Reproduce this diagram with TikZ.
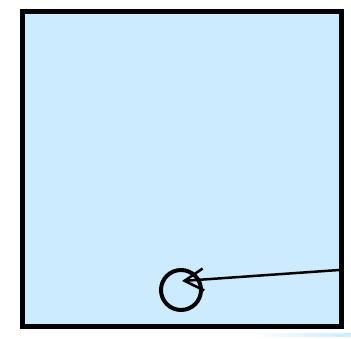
\documentclass[tikz,border=0pt]{standalone}
\usepackage{tikz}
\usetikzlibrary{arrows.meta,positioning}
\definecolor{panelbg}{HTML}{CCEBFF}
\definecolor{ink}{HTML}{000000}

\begin{document}
\begin{tikzpicture}[
  x=1pt, y=-1pt,
  frame/.style={draw=ink, line width=4.5pt, fill=panelbg, minimum width=319pt, minimum height=315pt, inner sep=0pt},
  target/.style={draw=ink, line width=4pt, circle, minimum size=40pt, inner sep=0pt},
  arrow/.style={-{Straight Barb[length=19pt, width=22pt]}, line width=2.5pt, draw=ink}
]
\useasboundingbox (0,0) rectangle (351,338);
\shade[left color=white, right color=panelbg] (250,333) rectangle (351,336);
\node[frame] (panel) at (182,169) {};
\node[target] (spot) at (181,290) {};
\coordinate (start) at (339,270);

\draw[arrow] (start) -- ([xshift=1pt, yshift=9pt]spot.center);
\end{tikzpicture}
\end{document}
